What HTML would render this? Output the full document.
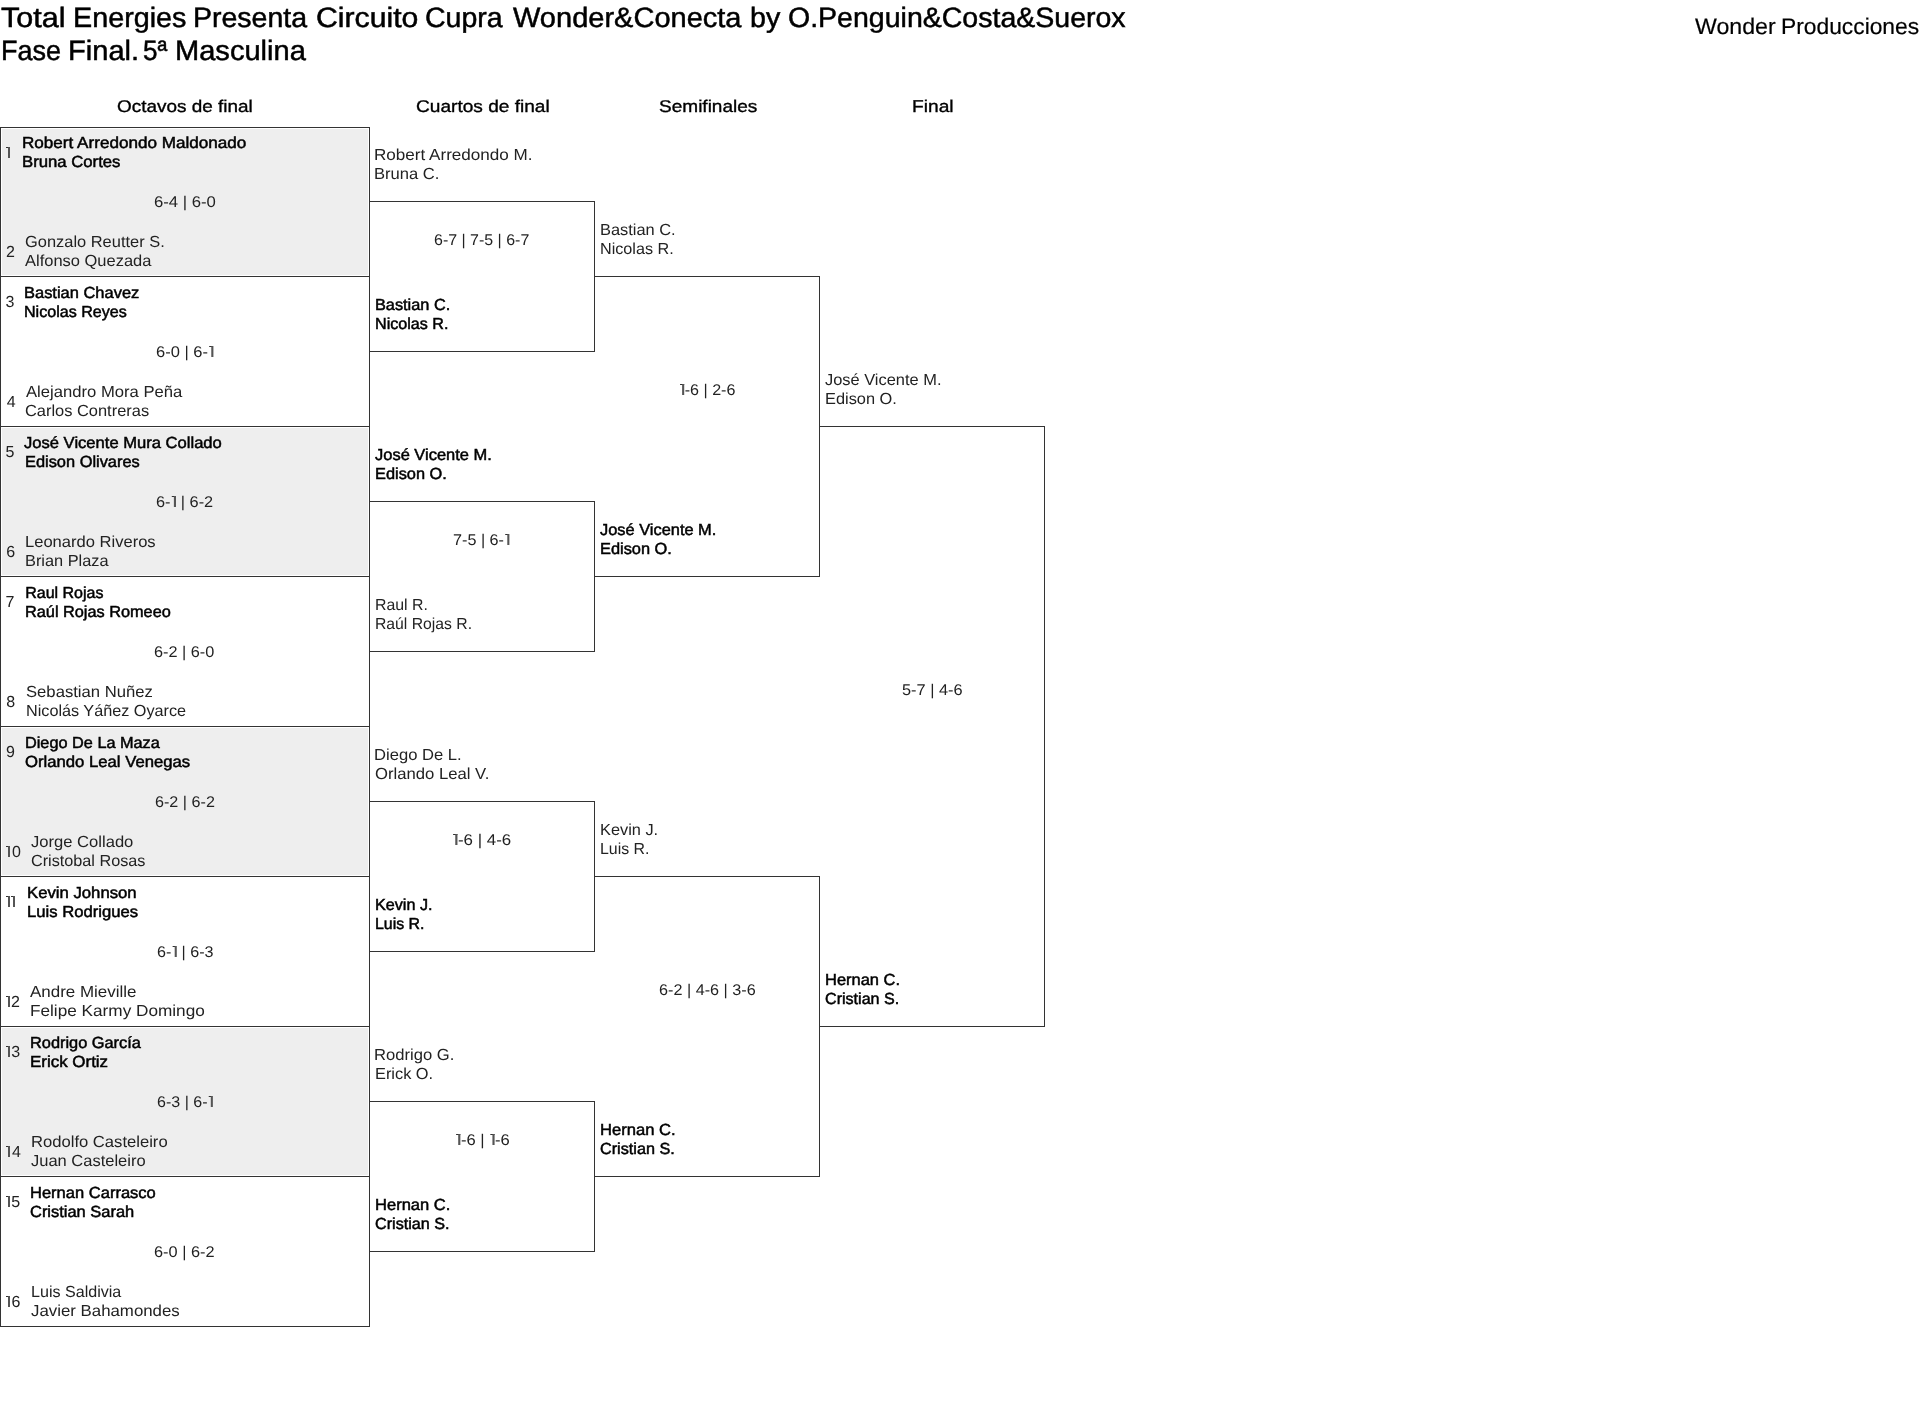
<!DOCTYPE html>
<html><head><meta charset="utf-8"><title>Fase Final</title>
<style>
html,body{margin:0;padding:0;background:#fff;width:1920px;height:1426px;overflow:hidden;position:relative}
.t{position:absolute;white-space:nowrap;font-family:"Liberation Sans",sans-serif;color:#000;transform-origin:0 0;text-rendering:geometricPrecision}
.w{position:absolute;left:0;top:0;width:1920px;height:1426px;will-change:transform}
.h{position:absolute;height:1px;background:#333}
.v{position:absolute;width:1px;background:#333}
.g{position:absolute;background:#eee}
.o{display:inline-block;position:relative;width:5.5px;height:10.7px;vertical-align:baseline}
.o::before{content:"";position:absolute;left:1.2px;top:0;width:3.4px;height:1.3px;background:#333}
.o1{position:absolute;width:4px;height:11px}
.o1::before{content:"";position:absolute;left:0;top:0;width:4px;height:1.3px;background:#333}
.o1::after{content:"";position:absolute;left:2px;top:0;width:2px;height:11px;background:#555}
.o::after{content:"";position:absolute;left:3px;top:0;width:2px;height:10.7px;background:#555}
</style></head><body>
<div class="g" style="left:2px;top:129px;width:366px;height:146px"></div>
<div class="g" style="left:2px;top:428px;width:366px;height:147px"></div>
<div class="g" style="left:2px;top:728px;width:366px;height:147px"></div>
<div class="g" style="left:2px;top:1028px;width:366px;height:147px"></div>
<div class="h" style="left:0px;top:127px;width:370px"></div>
<div class="h" style="left:0px;top:276px;width:370px"></div>
<div class="h" style="left:0px;top:426px;width:370px"></div>
<div class="h" style="left:0px;top:576px;width:370px"></div>
<div class="h" style="left:0px;top:726px;width:370px"></div>
<div class="h" style="left:0px;top:876px;width:370px"></div>
<div class="h" style="left:0px;top:1026px;width:370px"></div>
<div class="h" style="left:0px;top:1176px;width:370px"></div>
<div class="h" style="left:0px;top:1326px;width:370px"></div>
<div class="v" style="left:0px;top:127px;height:1200px"></div>
<div class="v" style="left:369px;top:127px;height:1200px"></div>
<div class="h" style="left:369px;top:201px;width:226px"></div>
<div class="h" style="left:369px;top:351px;width:226px"></div>
<div class="v" style="left:594px;top:201px;height:151px"></div>
<div class="h" style="left:369px;top:501px;width:226px"></div>
<div class="h" style="left:369px;top:651px;width:226px"></div>
<div class="v" style="left:594px;top:501px;height:151px"></div>
<div class="h" style="left:369px;top:801px;width:226px"></div>
<div class="h" style="left:369px;top:951px;width:226px"></div>
<div class="v" style="left:594px;top:801px;height:151px"></div>
<div class="h" style="left:369px;top:1101px;width:226px"></div>
<div class="h" style="left:369px;top:1251px;width:226px"></div>
<div class="v" style="left:594px;top:1101px;height:151px"></div>
<div class="h" style="left:594px;top:276px;width:226px"></div>
<div class="h" style="left:594px;top:576px;width:226px"></div>
<div class="v" style="left:819px;top:276px;height:301px"></div>
<div class="h" style="left:594px;top:876px;width:226px"></div>
<div class="h" style="left:594px;top:1176px;width:226px"></div>
<div class="v" style="left:819px;top:876px;height:301px"></div>
<div class="h" style="left:819px;top:426px;width:226px"></div>
<div class="h" style="left:819px;top:1026px;width:226px"></div>
<div class="v" style="left:1044px;top:426px;height:601px"></div>
<div class="w">
<div class="t" style="left:0.80px;top:1.00px;font-size:28px;line-height:34px;transform:scaleX(1.0896);-webkit-text-stroke:0.50px #000;">Total</div>
<div class="t" style="left:72.61px;top:1.00px;font-size:28px;line-height:34px;transform:scaleX(1.0264);-webkit-text-stroke:0.50px #000;">Energies</div>
<div class="t" style="left:193.43px;top:1.00px;font-size:28px;line-height:34px;transform:scaleX(1.0176);-webkit-text-stroke:0.50px #000;">Presenta</div>
<div class="t" style="left:316.35px;top:1.00px;font-size:28px;line-height:34px;transform:scaleX(1.0778);-webkit-text-stroke:0.50px #000;">Circuito</div>
<div class="t" style="left:424.92px;top:1.00px;font-size:28px;line-height:34px;transform:scaleX(1.0182);-webkit-text-stroke:0.50px #000;">Cupra</div>
<div class="t" style="left:512.76px;top:1.00px;font-size:28px;line-height:34px;transform:scaleX(1.0363);-webkit-text-stroke:0.50px #000;">Wonder&amp;Conecta</div>
<div class="t" style="left:750.46px;top:1.00px;font-size:28px;line-height:34px;transform:scaleX(1.0239);-webkit-text-stroke:0.50px #000;">by</div>
<div class="t" style="left:788.12px;top:1.00px;font-size:28px;line-height:34px;transform:scaleX(1.0184);-webkit-text-stroke:0.50px #000;">O.Penguin&amp;Costa&amp;Suerox</div>
<div class="t" style="left:1.23px;top:33.90px;font-size:28px;line-height:34px;transform:scaleX(0.9642);-webkit-text-stroke:0.50px #000;">Fase</div>
<div class="t" style="left:67.79px;top:33.90px;font-size:28px;line-height:34px;transform:scaleX(1.0381);-webkit-text-stroke:0.50px #000;">Final.</div>
<div class="t" style="left:143.17px;top:33.90px;font-size:28px;line-height:34px;transform:scaleX(0.9320);-webkit-text-stroke:0.50px #000;">5ª</div>
<div class="t" style="left:174.99px;top:33.90px;font-size:28px;line-height:34px;transform:scaleX(1.0378);-webkit-text-stroke:0.50px #000;">Masculina</div>
<div class="t" style="left:1695.10px;top:12.75px;font-size:22.5px;line-height:27px;transform:scaleX(1.0296);-webkit-text-stroke:0.20px #000;">Wonder</div>
<div class="t" style="left:1781.28px;top:12.75px;font-size:22.5px;line-height:27px;transform:scaleX(1.0132);-webkit-text-stroke:0.20px #000;">Producciones</div>
<div class="t" style="left:117.10px;top:95.70px;font-size:17px;line-height:21px;transform:scaleX(1.1132);-webkit-text-stroke:0.35px #000;">Octavos de final</div>
<div class="t" style="left:415.90px;top:95.70px;font-size:17px;line-height:21px;transform:scaleX(1.1230);-webkit-text-stroke:0.35px #000;">Cuartos de final</div>
<div class="t" style="left:658.61px;top:95.70px;font-size:17px;line-height:21px;transform:scaleX(1.1194);-webkit-text-stroke:0.35px #000;">Semifinales</div>
<div class="t" style="left:912.33px;top:95.70px;font-size:17px;line-height:21px;transform:scaleX(1.1287);-webkit-text-stroke:0.35px #000;">Final</div>
<div class="t" style="left:21.58px;top:134.00px;font-size:16px;line-height:20px;-webkit-text-stroke:0.50px #000;transform:scaleX(1.0683);">Robert Arredondo Maldonado</div>
<div class="t" style="left:21.60px;top:153.00px;font-size:16px;line-height:20px;-webkit-text-stroke:0.50px #000;transform:scaleX(1.0445);">Bruna Cortes</div>
<div class="t" style="left:153.75px;top:192.50px;font-size:15.5px;line-height:19px;color:#222;transform:scaleX(1.0778);">6-4 | 6-0</div>
<div class="t" style="left:5.95px;top:243.00px;font-size:16px;line-height:20px;color:#222;">2</div>
<div class="t" style="left:24.78px;top:233.00px;font-size:16px;line-height:20px;color:#222;transform:scaleX(1.0267);">Gonzalo Reutter S.</div>
<div class="t" style="left:25.10px;top:252.00px;font-size:16px;line-height:20px;color:#222;transform:scaleX(1.0297);">Alfonso Quezada</div>
<div class="t" style="left:5.60px;top:293.00px;font-size:16px;line-height:20px;color:#222;">3</div>
<div class="t" style="left:23.92px;top:284.00px;font-size:16px;line-height:20px;-webkit-text-stroke:0.50px #000;transform:scaleX(1.0288);">Bastian Chavez</div>
<div class="t" style="left:23.94px;top:303.00px;font-size:16px;line-height:20px;-webkit-text-stroke:0.50px #000;transform:scaleX(1.0054);">Nicolas Reyes</div>
<div class="t" style="left:155.76px;top:342.50px;font-size:15.5px;line-height:19px;color:#222;transform:scaleX(1.0631);">6-0 | 6-<span class="o"></span></div>
<div class="t" style="left:6.65px;top:393.00px;font-size:16px;line-height:20px;color:#222;">4</div>
<div class="t" style="left:26.25px;top:383.00px;font-size:16px;line-height:20px;color:#222;transform:scaleX(1.0395);">Alejandro Mora Peña</div>
<div class="t" style="left:25.43px;top:402.00px;font-size:16px;line-height:20px;color:#222;transform:scaleX(1.0261);">Carlos Contreras</div>
<div class="t" style="left:5.55px;top:443.00px;font-size:16px;line-height:20px;color:#222;">5</div>
<div class="t" style="left:24.45px;top:434.00px;font-size:16px;line-height:20px;-webkit-text-stroke:0.50px #000;transform:scaleX(1.0361);">José Vicente Mura Collado</div>
<div class="t" style="left:24.52px;top:453.00px;font-size:16px;line-height:20px;-webkit-text-stroke:0.50px #000;transform:scaleX(1.0240);">Edison Olivares</div>
<div class="t" style="left:156.26px;top:492.50px;font-size:15.5px;line-height:19px;color:#222;transform:scaleX(1.0525);">6-<span class="o"></span> | 6-2</div>
<div class="t" style="left:6.25px;top:543.00px;font-size:16px;line-height:20px;color:#222;">6</div>
<div class="t" style="left:24.91px;top:533.00px;font-size:16px;line-height:20px;color:#222;transform:scaleX(1.0342);">Leonardo Riveros</div>
<div class="t" style="left:24.92px;top:552.00px;font-size:16px;line-height:20px;color:#222;transform:scaleX(1.0215);">Brian Plaza</div>
<div class="t" style="left:5.55px;top:593.00px;font-size:16px;line-height:20px;color:#222;">7</div>
<div class="t" style="left:25.20px;top:584.00px;font-size:16px;line-height:20px;-webkit-text-stroke:0.50px #000;">Raul Rojas</div>
<div class="t" style="left:25.18px;top:603.00px;font-size:16px;line-height:20px;-webkit-text-stroke:0.50px #000;transform:scaleX(1.0181);">Raúl Rojas Romeeo</div>
<div class="t" style="left:154.27px;top:642.50px;font-size:15.5px;line-height:19px;color:#222;transform:scaleX(1.0494);">6-2 | 6-0</div>
<div class="t" style="left:6.30px;top:693.00px;font-size:16px;line-height:20px;color:#222;">8</div>
<div class="t" style="left:25.77px;top:683.00px;font-size:16px;line-height:20px;color:#222;transform:scaleX(1.0410);">Sebastian Nuñez</div>
<div class="t" style="left:25.93px;top:702.00px;font-size:16px;line-height:20px;color:#222;transform:scaleX(1.0132);">Nicolás Yáñez Oyarce</div>
<div class="t" style="left:6.05px;top:743.00px;font-size:16px;line-height:20px;color:#222;">9</div>
<div class="t" style="left:25.18px;top:734.00px;font-size:16px;line-height:20px;-webkit-text-stroke:0.50px #000;transform:scaleX(1.0173);">Diego De La Maza</div>
<div class="t" style="left:25.13px;top:753.00px;font-size:16px;line-height:20px;-webkit-text-stroke:0.50px #000;transform:scaleX(1.0429);">Orlando Leal Venegas</div>
<div class="t" style="left:154.87px;top:792.50px;font-size:15.5px;line-height:19px;color:#222;transform:scaleX(1.0424);">6-2 | 6-2</div>
<div class="t" style="left:11.95px;top:843.00px;font-size:16px;line-height:20px;color:#222;">0</div>
<div class="t" style="left:31.04px;top:833.00px;font-size:16px;line-height:20px;color:#222;transform:scaleX(1.0365);">Jorge Collado</div>
<div class="t" style="left:31.09px;top:852.00px;font-size:16px;line-height:20px;color:#222;transform:scaleX(1.0132);">Cristobal Rosas</div>
<div class="t" style="left:27.40px;top:884.00px;font-size:16px;line-height:20px;-webkit-text-stroke:0.50px #000;transform:scaleX(1.0445);">Kevin Johnson</div>
<div class="t" style="left:27.41px;top:903.00px;font-size:16px;line-height:20px;-webkit-text-stroke:0.50px #000;transform:scaleX(1.0396);">Luis Rodrigues</div>
<div class="t" style="left:156.77px;top:942.50px;font-size:15.5px;line-height:19px;color:#222;transform:scaleX(1.0411);">6-<span class="o"></span> | 6-3</div>
<div class="t" style="left:11.00px;top:993.00px;font-size:16px;line-height:20px;color:#222;">2</div>
<div class="t" style="left:30.25px;top:983.00px;font-size:16px;line-height:20px;color:#222;transform:scaleX(1.0598);">Andre Mieville</div>
<div class="t" style="left:29.85px;top:1002.00px;font-size:16px;line-height:20px;color:#222;transform:scaleX(1.0741);">Felipe Karmy Domingo</div>
<div class="t" style="left:11.30px;top:1043.00px;font-size:16px;line-height:20px;color:#222;">3</div>
<div class="t" style="left:30.18px;top:1034.00px;font-size:16px;line-height:20px;-webkit-text-stroke:0.50px #000;transform:scaleX(1.0214);">Rodrigo García</div>
<div class="t" style="left:30.14px;top:1053.00px;font-size:16px;line-height:20px;-webkit-text-stroke:0.50px #000;transform:scaleX(1.0585);">Erick Ortiz</div>
<div class="t" style="left:156.78px;top:1092.50px;font-size:15.5px;line-height:19px;color:#222;transform:scaleX(1.0346);">6-3 | 6-<span class="o"></span></div>
<div class="t" style="left:12.00px;top:1143.00px;font-size:16px;line-height:20px;color:#222;">4</div>
<div class="t" style="left:30.90px;top:1133.00px;font-size:16px;line-height:20px;color:#222;transform:scaleX(1.0380);">Rodolfo Casteleiro</div>
<div class="t" style="left:31.04px;top:1152.00px;font-size:16px;line-height:20px;color:#222;transform:scaleX(1.0306);">Juan Casteleiro</div>
<div class="t" style="left:11.25px;top:1193.00px;font-size:16px;line-height:20px;color:#222;">5</div>
<div class="t" style="left:30.17px;top:1184.00px;font-size:16px;line-height:20px;-webkit-text-stroke:0.50px #000;transform:scaleX(1.0326);">Hernan Carrasco</div>
<div class="t" style="left:30.03px;top:1203.00px;font-size:16px;line-height:20px;-webkit-text-stroke:0.50px #000;transform:scaleX(1.0282);">Cristian Sarah</div>
<div class="t" style="left:154.26px;top:1242.50px;font-size:15.5px;line-height:19px;color:#222;transform:scaleX(1.0531);">6-0 | 6-2</div>
<div class="t" style="left:11.50px;top:1293.00px;font-size:16px;line-height:20px;color:#222;">6</div>
<div class="t" style="left:30.94px;top:1283.00px;font-size:16px;line-height:20px;color:#222;transform:scaleX(1.0053);">Luis Saldivia</div>
<div class="t" style="left:30.79px;top:1302.00px;font-size:16px;line-height:20px;color:#222;transform:scaleX(1.0518);">Javier Bahamondes</div>
<div class="t" style="left:374.41px;top:146.00px;font-size:16px;line-height:20px;color:#222;transform:scaleX(1.0678);">Robert Arredondo M.</div>
<div class="t" style="left:374.45px;top:165.00px;font-size:16px;line-height:20px;color:#222;transform:scaleX(1.0348);">Bruna C.</div>
<div class="t" style="left:433.68px;top:230.80px;font-size:15.5px;line-height:19px;color:#222;transform:scaleX(1.0300);">6-7 | 7-5 | 6-7</div>
<div class="t" style="left:375.03px;top:296.00px;font-size:16px;line-height:20px;-webkit-text-stroke:0.50px #000;transform:scaleX(1.0186);">Bastian C.</div>
<div class="t" style="left:375.04px;top:315.00px;font-size:16px;line-height:20px;-webkit-text-stroke:0.50px #000;transform:scaleX(1.0062);">Nicolas R.</div>
<div class="t" style="left:375.05px;top:446.00px;font-size:16px;line-height:20px;-webkit-text-stroke:0.50px #000;transform:scaleX(1.0294);">José Vicente M.</div>
<div class="t" style="left:374.93px;top:465.00px;font-size:16px;line-height:20px;-webkit-text-stroke:0.50px #000;transform:scaleX(1.0219);">Edison O.</div>
<div class="t" style="left:453.47px;top:530.80px;font-size:15.5px;line-height:19px;color:#222;transform:scaleX(1.0441);">7-5 | 6-<span class="o"></span></div>
<div class="t" style="left:374.81px;top:596.00px;font-size:16px;line-height:20px;color:#222;transform:scaleX(0.9900);">Raul R.</div>
<div class="t" style="left:374.82px;top:615.00px;font-size:16px;line-height:20px;color:#222;transform:scaleX(0.9827);">Raúl Rojas R.</div>
<div class="t" style="left:374.45px;top:746.00px;font-size:16px;line-height:20px;color:#222;transform:scaleX(1.0373);">Diego De L.</div>
<div class="t" style="left:374.77px;top:765.00px;font-size:16px;line-height:20px;color:#222;transform:scaleX(1.0422);">Orlando Leal V.</div>
<div class="t" style="left:451.63px;top:830.80px;font-size:15.5px;line-height:19px;color:#222;transform:scaleX(1.0903);"><span class="o"></span>-6 | 4-6</div>
<div class="t" style="left:375.04px;top:896.00px;font-size:16px;line-height:20px;-webkit-text-stroke:0.50px #000;transform:scaleX(1.0097);">Kevin J.</div>
<div class="t" style="left:375.06px;top:915.00px;font-size:16px;line-height:20px;-webkit-text-stroke:0.50px #000;transform:scaleX(0.9926);">Luis R.</div>
<div class="t" style="left:374.45px;top:1046.00px;font-size:16px;line-height:20px;color:#222;transform:scaleX(1.0372);">Rodrigo G.</div>
<div class="t" style="left:374.67px;top:1065.00px;font-size:16px;line-height:20px;color:#222;transform:scaleX(1.0213);">Erick O.</div>
<div class="t" style="left:454.76px;top:1130.80px;font-size:15.5px;line-height:19px;color:#222;transform:scaleX(1.0698);"><span class="o"></span>-6 | <span class="o"></span>-6</div>
<div class="t" style="left:375.02px;top:1196.00px;font-size:16px;line-height:20px;-webkit-text-stroke:0.50px #000;transform:scaleX(1.0329);">Hernan C.</div>
<div class="t" style="left:374.94px;top:1215.00px;font-size:16px;line-height:20px;-webkit-text-stroke:0.50px #000;transform:scaleX(1.0104);">Cristian S.</div>
<div class="t" style="left:599.57px;top:221.00px;font-size:16px;line-height:20px;color:#222;transform:scaleX(1.0244);">Bastian C.</div>
<div class="t" style="left:599.59px;top:240.00px;font-size:16px;line-height:20px;color:#222;transform:scaleX(1.0105);">Nicolas R.</div>
<div class="t" style="left:678.59px;top:380.80px;font-size:15.5px;line-height:19px;color:#222;transform:scaleX(1.0388);"><span class="o"></span>-6 | 2-6</div>
<div class="t" style="left:600.30px;top:521.00px;font-size:16px;line-height:20px;-webkit-text-stroke:0.50px #000;transform:scaleX(1.0245);">José Vicente M.</div>
<div class="t" style="left:599.93px;top:540.00px;font-size:16px;line-height:20px;-webkit-text-stroke:0.50px #000;transform:scaleX(1.0233);">Edison O.</div>
<div class="t" style="left:599.57px;top:821.00px;font-size:16px;line-height:20px;color:#222;transform:scaleX(1.0209);">Kevin J.</div>
<div class="t" style="left:599.61px;top:840.00px;font-size:16px;line-height:20px;color:#222;transform:scaleX(0.9925);">Luis R.</div>
<div class="t" style="left:658.77px;top:980.80px;font-size:15.5px;line-height:19px;color:#222;transform:scaleX(1.0454);">6-2 | 4-6 | 3-6</div>
<div class="t" style="left:599.91px;top:1121.00px;font-size:16px;line-height:20px;-webkit-text-stroke:0.50px #000;transform:scaleX(1.0371);">Hernan C.</div>
<div class="t" style="left:599.94px;top:1140.00px;font-size:16px;line-height:20px;-webkit-text-stroke:0.50px #000;transform:scaleX(1.0132);">Cristian S.</div>
<div class="t" style="left:825.04px;top:371.00px;font-size:16px;line-height:20px;color:#222;transform:scaleX(1.0255);">José Vicente M.</div>
<div class="t" style="left:824.67px;top:390.00px;font-size:16px;line-height:20px;color:#222;transform:scaleX(1.0220);">Edison O.</div>
<div class="t" style="left:901.62px;top:680.80px;font-size:15.5px;line-height:19px;color:#222;transform:scaleX(1.0538);">5-7 | 4-6</div>
<div class="t" style="left:825.17px;top:971.00px;font-size:16px;line-height:20px;-webkit-text-stroke:0.50px #000;transform:scaleX(1.0293);">Hernan C.</div>
<div class="t" style="left:825.05px;top:990.00px;font-size:16px;line-height:20px;-webkit-text-stroke:0.50px #000;transform:scaleX(1.0062);">Cristian S.</div>
<div class="o1" style="left:5.9px;top:147.0px"></div>
<div class="o1" style="left:5.9px;top:846.0px"></div>
<div class="o1" style="left:5.9px;top:896.0px"></div>
<div class="o1" style="left:11.0px;top:896.0px"></div>
<div class="o1" style="left:5.9px;top:996.0px"></div>
<div class="o1" style="left:5.9px;top:1046.0px"></div>
<div class="o1" style="left:5.9px;top:1146.0px"></div>
<div class="o1" style="left:5.9px;top:1196.0px"></div>
<div class="o1" style="left:5.9px;top:1296.0px"></div>
</div>
</body></html>
